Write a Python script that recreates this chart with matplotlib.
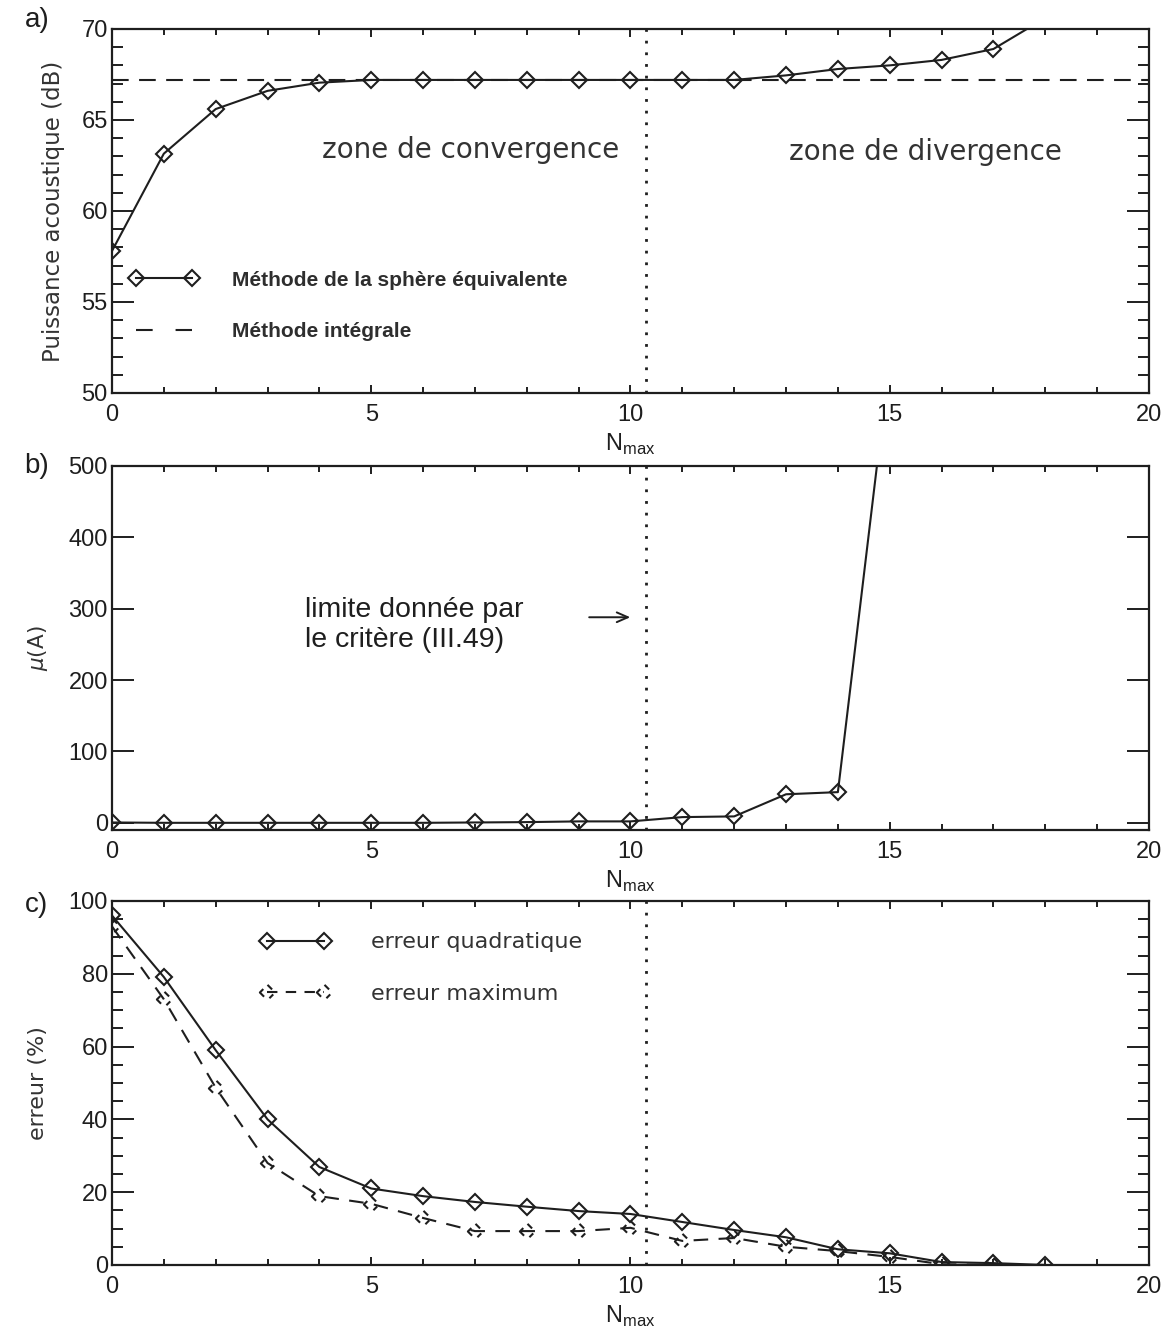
import numpy as np
import matplotlib
matplotlib.use("Agg")
import matplotlib.pyplot as plt
from matplotlib.lines import Line2D
from matplotlib.path import Path
from matplotlib.ticker import MultipleLocator, NullLocator

# ---------------- data ----------------
n_a = [0, 1, 2, 3, 4, 5, 6, 7, 8, 9, 10, 11, 12, 13, 14, 15, 16, 17, 18]
puissance_sphere = [57.8, 63.15, 65.6, 66.6, 67.05, 67.2, 67.2, 67.2, 67.2, 67.2,
                    67.2, 67.2, 67.2, 67.45, 67.8, 68.0, 68.3, 68.9, 70.6]
puissance_integrale = 67.2

n_b = [0, 1, 2, 3, 4, 5, 6, 7, 8, 9, 10, 11, 12, 13, 14, 15]
mu_A = [0.5, 0, 0, 0, 0, 0, 0, 0.5, 1, 2, 2, 8, 9, 40, 43, 650]

n_c_quad = [0, 1, 2, 3, 4, 5, 6, 7, 8, 9, 10, 11, 12, 13, 14, 15, 16, 17, 18]
erreur_quadratique = [96, 79.1, 59.0, 40.0, 26.9, 21.0, 18.9, 17.3, 16.0, 14.8,
                      14.0, 11.8, 9.6, 7.6, 4.3, 3.2, 0.8, 0.5, 0.0]
n_c_max = [0, 1, 2, 3, 4, 5, 6, 7, 8, 9, 10, 11, 12, 13, 14, 15, 16, 17]
erreur_maximum = [93, 73, 48.7, 28.0, 18.9, 16.8, 12.9, 9.3, 9.3, 9.3,
                  10.2, 6.6, 7.4, 5.0, 3.8, 2.2, 0.2, 0.0]

limite_critere = 10.3

# ---------------- style ----------------
INK = "#1e1e1e"
SOFT = "#333333"
HELV = ["Liberation Sans", "DejaVu Sans"]
HERSHEY = ["DejaVu Sans"]
MS = 7.8

plt.rcParams["font.family"] = HELV
plt.rcParams["mathtext.fontset"] = "custom"
plt.rcParams["mathtext.rm"] = "Liberation Sans"
plt.rcParams["mathtext.it"] = "DejaVu Sans:italic"

fig = plt.figure(figsize=(11.64, 13.29), dpi=100)
L, W, H = 0.0962, 0.8909, 0.2739
ax_a = fig.add_axes([L, 0.7043, W, H])
ax_b = fig.add_axes([L, 0.3755, W, H])
ax_c = fig.add_axes([L, 0.0482, W, H])

# dashed-diamond marker (diamond drawn with a broken outline)
dash_verts = [(-0.55, 0.45), (-1.0, 0.0), (-0.45, -0.55),
              (0.0, 1.0), (0.6, 0.4),
              (0.25, -0.75), (0.75, -0.25)]
dash_codes = [Path.MOVETO, Path.LINETO, Path.LINETO,
              Path.MOVETO, Path.LINETO,
              Path.MOVETO, Path.LINETO]
dashed_diamond = Path(dash_verts, dash_codes)


def style_axis(ax, ymaj, ymin, ticksize):
    ax.set_xlim(0, 20)
    ax.xaxis.set_major_locator(MultipleLocator(5))
    ax.xaxis.set_minor_locator(MultipleLocator(1))
    ax.yaxis.set_major_locator(MultipleLocator(ymaj))
    if ymin:
        ax.yaxis.set_minor_locator(MultipleLocator(ymin))
    else:
        ax.yaxis.set_minor_locator(NullLocator())
    ax.tick_params(which="both", direction="in", top=True, right=True,
                   color=INK, width=1.4, labelcolor=INK)
    ax.tick_params(axis="x", which="major", length=6, pad=8,
                   labelsize=ticksize)
    ax.tick_params(axis="x", which="minor", length=4)
    ax.tick_params(axis="y", which="major", length=16, pad=3,
                   labelsize=ticksize)
    ax.tick_params(axis="y", which="minor", length=8)
    for sp in ax.spines.values():
        sp.set_linewidth(1.6)
        sp.set_color(INK)
    ax.axvline(limite_critere, color=INK, lw=2.0, ls=(0, (1, 3.2)))
    ax.set_xlabel(r"N$_{\mathrm{max}}$", fontsize=17, color=INK,
                  family=HELV, labelpad=4)


# ---------------- panel a ----------------
style_axis(ax_a, 5, 1, 17)
ax_a.set_ylim(50, 70)
ax_a.axhline(puissance_integrale, color=INK, lw=1.5, ls=(0, (8, 5)))
ax_a.plot(n_a, puissance_sphere, color=INK, lw=1.5, marker="D", ms=MS,
          mfc="none", mec=INK, mew=1.5)
ax_a.set_ylabel("Puissance acoustique (dB)", fontsize=16.5, color=SOFT,
                family=HERSHEY)
ax_a.yaxis.set_label_coords(-0.045, 0.5)
ax_a.text(6.92, 63.35, "zone de convergence", fontsize=20, color=SOFT,
          family=HERSHEY, ha="center", va="center")
ax_a.text(15.68, 63.25, "zone de divergence", fontsize=20, color=SOFT,
          family=HERSHEY, ha="center", va="center")
h1 = Line2D([], [], color=INK, lw=1.5, marker="D", ms=MS, mfc="none",
            mec=INK, mew=1.5)
h2 = Line2D([], [], color=INK, lw=1.5, ls=(0, (8, 11)))
leg = ax_a.legend([h1, h2], ["Méthode de la sphère équivalente",
                             "Méthode intégrale"],
                  loc="upper left", bbox_to_anchor=(0.017, 0.336),
                  frameon=False, numpoints=2, handlelength=3.3,
                  handletextpad=1.6, labelspacing=1.55, borderpad=0,
                  borderaxespad=0, prop={"family": HELV, "size": 15,
                                         "weight": "bold"})
for t in leg.get_texts():
    t.set_color("#2e2e2e")

# ---------------- panel b ----------------
style_axis(ax_b, 100, None, 17)
ax_b.set_ylim(-10, 500)
ax_b.plot(n_b, mu_A, color=INK, lw=1.5, marker="D", ms=MS, mfc="none",
          mec=INK, mew=1.5)
ax_b.set_ylabel(r"$\mu$(A)", fontsize=15.5, color=SOFT, family=HERSHEY)
ax_b.yaxis.set_label_coords(-0.06, 0.5)
ax_b.text(3.72, 277, "limite donnée par\nle critère (III.49)", fontsize=20.5,
          color=INK, family=HELV, ha="left", va="center",
          linespacing=1.2)
ax_b.annotate("", xy=(10.05, 288), xytext=(9.15, 288),
              arrowprops=dict(arrowstyle="->,head_length=0.8,head_width=0.35",
                              color=INK, lw=1.4))

# ---------------- panel c ----------------
style_axis(ax_c, 20, 5, 17)
ax_c.set_ylim(0, 100)
ax_c.plot(n_c_quad, erreur_quadratique, color=INK, lw=1.5, marker="D",
          ms=MS, mfc="none", mec=INK, mew=1.5)
ax_c.plot(n_c_max, erreur_maximum, color=INK, lw=1.5, ls=(0, (7, 5)),
          marker=dashed_diamond, ms=MS * 1.41, mfc="none", mec=INK, mew=1.5)
ax_c.set_ylabel("erreur (%)", fontsize=16, color=SOFT, family=HERSHEY)
ax_c.yaxis.set_label_coords(-0.062, 0.5)
hq = Line2D([], [], color=INK, lw=1.5, marker="D", ms=MS, mfc="none",
            mec=INK, mew=1.5)
hm = Line2D([], [], color=INK, lw=1.5, ls=(0, (5, 4)),
            marker=dashed_diamond, ms=MS * 1.41, mfc="none", mec=INK, mew=1.5)
ax_c.legend([hq, hm], ["erreur quadratique", "erreur maximum"],
            loc="upper left", bbox_to_anchor=(0.1427, 0.9135),
            frameon=False, numpoints=2, handlelength=3.2,
            handletextpad=1.8, labelspacing=1.43, borderpad=0,
            borderaxespad=0, prop={"family": HERSHEY, "size": 16},
            labelcolor=SOFT)

# panel labels
for lab, ypix in (("a)", 20), ("b)", 466), ("c)", 905)):
    fig.text(37 / 1164, 1 - ypix / 1329, lab, fontsize=20, color=INK,
             family=HELV, ha="center", va="center")

fig.savefig("out.png", dpi=100, facecolor="white")
